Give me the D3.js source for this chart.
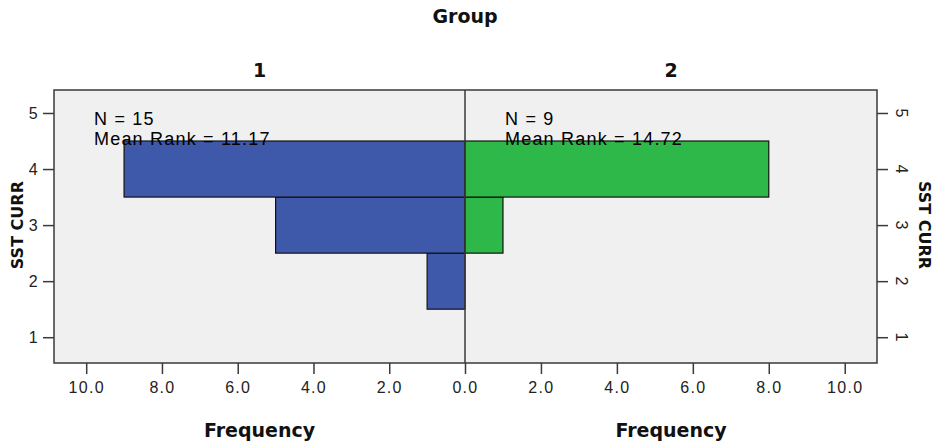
<!DOCTYPE html>
<html>
<head>
<meta charset="utf-8">
<script src="https://cdn.jsdelivr.net/npm/d3@7"></script>
<style>
    body { margin: 0; background: #ffffff; }
    svg { display: block; }
    .tick text { font-family: "Liberation Sans", Arial, sans-serif; font-size: 16px; letter-spacing: 1.3px; fill: #222; }
    .bold { font-family: "DejaVu Sans", Verdana, sans-serif; font-weight: bold; fill: #111; }
</style>
</head>
<body>
<svg id="chart" width="935" height="446"></svg>
<script>
// chart data
const groups = ["1", "2"];
const sstValues = [1, 2, 3, 4, 5];
const group1Freq = [0, 1, 5, 9, 0];
const group2Freq = [0, 0, 1, 8, 0];
const groupN = [15, 9];
const meanRanks = ["11.17", "14.72"];
const freqTicks = [0, 2, 4, 6, 8, 10];

const blueBar = "#3E58AA";
const greenBar = "#2FB84A";
const lineColor = "#3a3a3a";

// plot box
const plotLeft = 54, plotRight = 877, plotTop = 90, plotBottom = 363, plotMid = 465;

let svg = d3.select("#chart");

let y = d3.scaleLinear().domain([0.54, 5.41]).range([plotBottom, plotTop]);
let xLeft = d3.scaleLinear().domain([0, 10.85]).range([plotMid, plotLeft]);
let xRight = d3.scaleLinear().domain([0, 10.85]).range([plotMid, plotRight]);

// background
svg.append("rect")
    .attr("x", plotLeft).attr("y", plotTop)
    .attr("width", plotRight - plotLeft).attr("height", plotBottom - plotTop)
    .attr("fill", "#F0F0F0");

// build bar rows from arrays
let rows1 = sstValues.map((v, i) => ({value: v, count: group1Freq[i]})).filter(d => d.count > 0);
let rows2 = sstValues.map((v, i) => ({value: v, count: group2Freq[i]})).filter(d => d.count > 0);

svg.selectAll(".bar1")
    .data(rows1)
    .enter().append("rect")
    .attr("class", "bar1")
    .attr("x", d => xLeft(d.count))
    .attr("width", d => xLeft(0) - xLeft(d.count))
    .attr("y", d => y(d.value + 0.5))
    .attr("height", d => y(d.value - 0.5) - y(d.value + 0.5))
    .attr("fill", blueBar)
    .attr("stroke", "#111")
    .attr("stroke-width", 1.2);

svg.selectAll(".bar2")
    .data(rows2)
    .enter().append("rect")
    .attr("class", "bar2")
    .attr("x", d => xRight(0))
    .attr("width", d => xRight(d.count) - xRight(0))
    .attr("y", d => y(d.value + 0.5))
    .attr("height", d => y(d.value - 0.5) - y(d.value + 0.5))
    .attr("fill", greenBar)
    .attr("stroke", "#111")
    .attr("stroke-width", 1.2);

// center divider
svg.append("line")
    .attr("x1", plotMid).attr("x2", plotMid)
    .attr("y1", plotTop).attr("y2", plotBottom)
    .attr("stroke", lineColor).attr("stroke-width", 1.5);

// box border
svg.append("rect")
    .attr("x", plotLeft).attr("y", plotTop)
    .attr("width", plotRight - plotLeft).attr("height", plotBottom - plotTop)
    .attr("fill", "none")
    .attr("stroke", lineColor).attr("stroke-width", 1.5);

// N and mean rank annotations
const panelStarts = [plotLeft, plotMid];
groups.forEach(function (g, i) {
    let t = svg.append("text")
        .attr("font-family", "Liberation Sans, Arial, sans-serif")
        .attr("font-size", 18)
        .attr("letter-spacing", 1.2)
        .attr("fill", "#000");
    t.append("tspan").attr("x", panelStarts[i] + 40).attr("y", plotTop + 35).text("N = " + groupN[i]);
    t.append("tspan").attr("x", panelStarts[i] + 40).attr("y", plotTop + 55).text("Mean Rank = " + meanRanks[i]);
});

// axes
let fmt = d3.format(".1f");
let axisStyle = function (g) {
    g.select(".domain").remove();
    g.selectAll(".tick line").attr("stroke", lineColor).attr("stroke-width", 1.5);
};

svg.append("g")
    .attr("transform", "translate(0," + plotBottom + ")")
    .call(d3.axisBottom(xLeft).tickValues(freqTicks).tickFormat(fmt).tickSize(11).tickPadding(8))
    .call(axisStyle);

svg.append("g")
    .attr("transform", "translate(0," + plotBottom + ")")
    .call(d3.axisBottom(xRight).tickValues(freqTicks.slice(1)).tickFormat(fmt).tickSize(11).tickPadding(8))
    .call(axisStyle);

svg.append("g")
    .attr("transform", "translate(" + plotLeft + ",0)")
    .call(d3.axisLeft(y).tickValues(sstValues).tickFormat(d3.format("d")).tickSize(11).tickPadding(4))
    .call(axisStyle);

// right axis with rotated labels
let rightAxis = svg.append("g")
    .attr("transform", "translate(" + plotRight + ",0)")
    .call(d3.axisRight(y).tickValues(sstValues).tickFormat(d3.format("d")).tickSize(11))
    .call(axisStyle);
rightAxis.selectAll(".tick text")
    .attr("x", 0).attr("dy", null)
    .attr("text-anchor", "middle")
    .attr("transform", "translate(19,0) rotate(90)");

// titles
svg.append("text")
    .attr("class", "bold")
    .attr("x", plotMid).attr("y", 23)
    .attr("text-anchor", "middle")
    .attr("font-size", 19)
    .text("Group");

groups.forEach(function (g, i) {
    let cx = i === 0 ? (plotLeft + plotMid) / 2 : (plotMid + plotRight) / 2;
    svg.append("text")
        .attr("class", "bold")
        .attr("x", cx).attr("y", 77)
        .attr("text-anchor", "middle")
        .attr("font-size", 19)
        .text(g);
    svg.append("text")
        .attr("class", "bold")
        .attr("x", cx).attr("y", 437)
        .attr("text-anchor", "middle")
        .attr("font-size", 19)
        .text("Frequency");
});

svg.append("text")
    .attr("class", "bold")
    .attr("font-family", "Liberation Sans, Arial, sans-serif")
    .attr("font-size", 16)
    .attr("text-anchor", "middle")
    .attr("transform", "translate(23," + y(3) + ") rotate(-90)")
    .text("SST CURR");

svg.append("text")
    .attr("class", "bold")
    .attr("font-family", "Liberation Sans, Arial, sans-serif")
    .attr("font-size", 16)
    .attr("text-anchor", "middle")
    .attr("transform", "translate(919," + y(3) + ") rotate(90)")
    .text("SST CURR");
</script>
</body>
</html>
